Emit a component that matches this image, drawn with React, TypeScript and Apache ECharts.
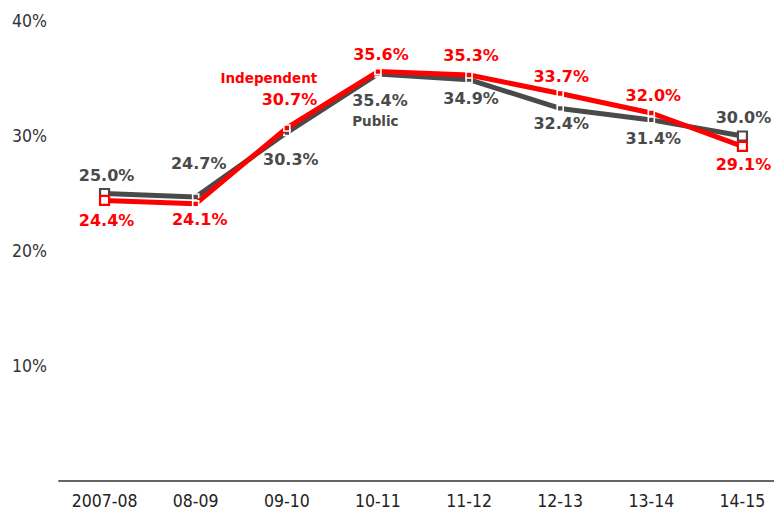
import React, { useEffect, useRef } from "react";
import * as echarts from "echarts";

const categories = ["2007-08", "08-09", "09-10", "10-11", "11-12", "12-13", "13-14", "14-15"];
const publicValues = [25.0, 24.7, 30.3, 35.4, 34.9, 32.4, 31.4, 30.0];
const independentValues = [24.4, 24.1, 30.7, 35.6, 35.3, 33.7, 32.0, 29.1];
const yTicks = [0, 10, 20, 30, 40];

const GRAY = "#4a4a4a";
const RED = "#ff0000";

// label offsets relative to point centre
const publicOffsets: number[][] = [[2, -18], [3, -33], [4, 27], [2, 37], [2, 19], [1, 15], [2, 19], [1, -19]];
const indepOffsets: number[][] = [[2, 20], [4, 16], [-18, -39], [3, -17], [2, -20], [1, -17], [2, -18], [1, 18]];

function buildData(values: number[], color: string, offsets: number[][], kind: "pub" | "ind") {
  return values.map((v, i) => {
    const isEnd = i === 0 || i === values.length - 1;
    const item: any = {
      value: v,
      symbol: "rect",
      symbolSize: isEnd ? 9 : 6,
      itemStyle: isEnd
        ? { color: "#ffffff", borderColor: color, borderWidth: 2.2 }
        : { color: color, borderColor: "#ffffff", borderWidth: 1.6 },
      label: {
        show: true,
        position: "inside",
        offset: offsets[i],
        color: color,
        fontFamily: "DejaVu Sans",
        fontWeight: "bold",
        fontSize: 16,
        formatter: v.toFixed(1) + "%",
      },
    };
    if (kind === "ind" && i === 2) {
      item.label.formatter = "{a|Independent}\n{b|" + v.toFixed(1) + "%}";
      item.label.rich = {
        a: { color: RED, fontFamily: "DejaVu Sans", fontWeight: "bold", fontSize: 13.5, align: "right", lineHeight: 21 },
        b: { color: RED, fontFamily: "DejaVu Sans", fontWeight: "bold", fontSize: 16, align: "right", lineHeight: 21 },
      };
    }
    if (kind === "pub" && i === 3) {
      item.label.formatter = "{b|" + v.toFixed(1) + "%}\n{a|Public}";
      item.label.rich = {
        a: { color: GRAY, fontFamily: "DejaVu Sans", fontWeight: "bold", fontSize: 13.5, align: "left", lineHeight: 20 },
        b: { color: GRAY, fontFamily: "DejaVu Sans", fontWeight: "bold", fontSize: 16, align: "left", lineHeight: 20 },
      };
    }
    return item;
  });
}

export default function App() {
  const ref = useRef<HTMLDivElement>(null);
  useEffect(() => {
    if (!ref.current) return;
    const chart = echarts.init(ref.current, null, { renderer: "svg" });
    chart.setOption({
      animation: false,
      backgroundColor: "#ffffff",
      grid: { left: 59, top: 21, right: -14, bottom: 36, containLabel: false, outerBoundsMode: "none" },
      xAxis: {
        type: "category",
        data: categories,
        boundaryGap: true,
        axisLine: { show: true, lineStyle: { color: "#666666", width: 2 } },
        axisTick: { show: false },
        axisLabel: {
          color: "#222222",
          fontFamily: "DejaVu Sans Condensed",
          fontSize: 17.5,
          margin: 11,
        },
        splitLine: { show: false },
      },
      yAxis: {
        type: "value",
        min: yTicks[0],
        max: yTicks[yTicks.length - 1],
        interval: 10,
        axisLine: { show: false },
        axisTick: { show: false },
        splitLine: { show: false },
        axisLabel: {
          color: "#333333",
          fontFamily: "DejaVu Sans Condensed",
          fontSize: 17.5,
          margin: 12,
          formatter: (val: number) => (val === 0 ? "" : val + "%"),
        },
      },
      series: [
        {
          name: "Public",
          type: "line",
          data: buildData(publicValues, GRAY, publicOffsets, "pub"),
          lineStyle: { color: GRAY, width: 5 },
          itemStyle: { color: GRAY },
          showAllSymbol: true,
          z: 2,
        },
        {
          name: "Independent",
          type: "line",
          data: buildData(independentValues, RED, indepOffsets, "ind"),
          lineStyle: { color: RED, width: 5 },
          itemStyle: { color: RED },
          showAllSymbol: true,
          z: 3,
        },
      ],
    });
    return () => chart.dispose();
  }, []);
  return (
    <div
      ref={ref}
      style={{ position: "fixed", left: 0, top: 0, width: 774, height: 517, background: "#fff" }}
    />
  );
}
